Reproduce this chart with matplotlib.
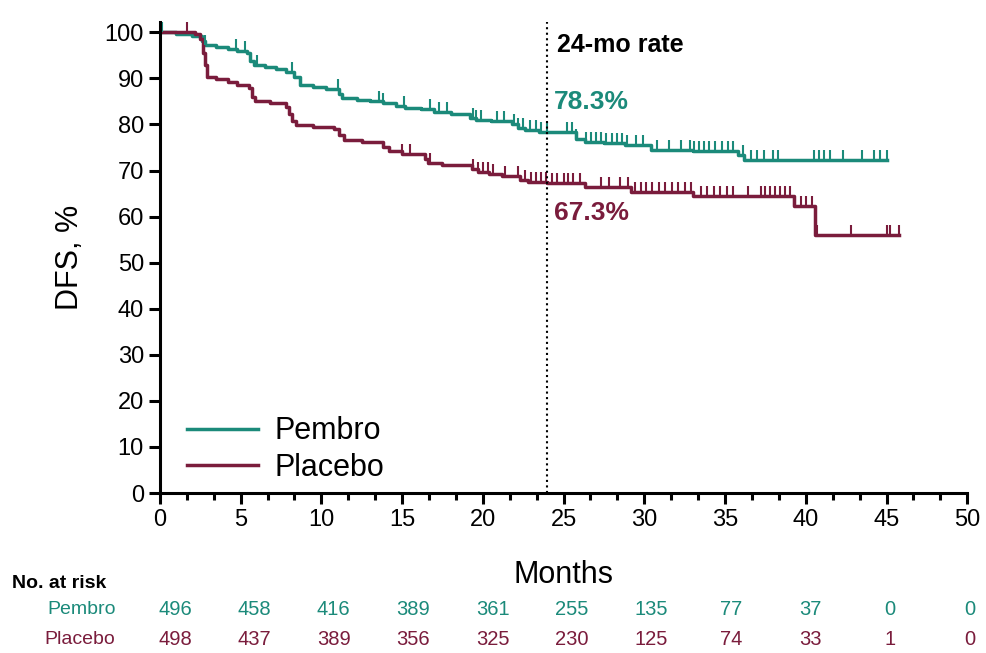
import numpy as np
import matplotlib.pyplot as plt
from matplotlib.ticker import MultipleLocator

plt.rcParams['font.family'] = ['Liberation Sans', 'DejaVu Sans']

teal = '#1b8a7a'
maroon = '#7a1c3c'

# Kaplan-Meier step points (months, DFS %)
pembro_t = [0, 1.0, 2.0, 2.6, 2.8, 3.5, 4.2, 4.8, 5.4, 5.6, 5.8, 6.5, 7.2, 7.8, 8.3, 8.7,
            9.5, 10.3, 11.1, 11.3, 12.2, 13.0, 13.8, 14.6, 15.2, 16.2, 17.0, 18.0, 19.2,
            19.6, 20.5, 21.8, 22.2, 22.6, 23.5, 25.8, 26.3, 27.5, 28.8, 30.4, 33.0, 35.8,
            36.2, 45.0]
pembro_s = [100, 99.6, 99.2, 98.2, 97.2, 96.8, 96.4, 96.0, 95.6, 93.8, 92.9, 92.5, 92.0,
            91.4, 90.2, 88.6, 88.2, 87.8, 86.6, 85.8, 85.4, 85.0, 84.6, 84.0, 83.6, 83.3,
            82.6, 82.3, 81.5, 81.0, 80.7, 80.2, 79.2, 78.8, 78.3, 76.8, 76.2, 76.0, 75.6,
            74.4, 74.2, 73.4, 72.2, 72.2]

placebo_t = [0, 2.2, 2.5, 2.7, 2.8, 2.9, 3.5, 4.2, 4.8, 5.5, 5.7, 5.9, 6.8, 7.8, 8.0, 8.2,
             8.4, 9.5, 10.8, 11.1, 11.4, 12.5, 13.8, 14.2, 15.0, 16.4, 16.6, 17.5, 19.3,
             19.7, 20.4, 21.2, 22.3, 22.8, 24.0, 26.3, 29.2, 33.0, 39.3, 40.6, 45.8]
placebo_s = [100, 99.6, 98.6, 95.5, 93.0, 90.2, 89.8, 89.2, 88.6, 88.0, 86.0, 85.0, 84.6,
             83.8, 82.2, 80.8, 79.8, 79.4, 79.0, 77.8, 76.6, 76.2, 75.2, 74.2, 73.6, 72.6,
             71.6, 71.3, 70.4, 69.6, 69.2, 68.8, 68.0, 67.5, 67.3, 66.4, 65.4, 64.4, 62.4,
             56.0, 56.0]

# censoring times
pembro_cens = [0.1, 2.8, 4.7, 5.3, 6.0, 8.2, 11.0, 13.6, 13.8, 15.1, 16.7, 17.3, 17.8, 19.4,
               19.6, 19.9, 20.9, 21.3, 21.9, 22.2, 22.5, 22.9, 23.3, 23.6, 24.0, 25.2, 25.5,
               25.8, 26.4, 26.7, 27.0, 27.3, 27.6, 28.0, 28.3, 28.6, 28.9, 29.5, 29.9, 30.8,
               31.5, 32.3, 32.8, 33.1, 33.4, 33.7, 34.0, 34.4, 34.8, 35.2, 35.5, 36.1, 36.6,
               37.0, 37.4, 38.0, 38.3, 40.5, 40.8, 41.1, 41.5, 42.3, 43.5, 44.2, 44.6, 45.0]
placebo_cens = [1.7, 15.0, 15.5, 16.7, 19.4, 19.7, 20.0, 20.3, 20.6, 21.4, 22.2, 22.6, 23.0,
                23.3, 23.6, 23.9, 24.3, 24.6, 25.0, 25.3, 25.6, 26.0, 27.3, 27.8, 28.5, 29.0,
                29.4, 29.8, 30.1, 30.5, 30.9, 31.3, 31.7, 32.1, 32.5, 32.9, 33.5, 33.9, 34.3,
                34.7, 35.1, 35.5, 36.4, 37.2, 37.5, 37.8, 38.1, 38.4, 38.7, 39.0, 39.3, 39.7,
                40.0, 40.4, 40.7, 42.8, 45.0, 45.2, 45.8]

risk_months = [0, 5, 10, 15, 20, 25, 30, 35, 40, 45, 50]
pembro_risk = [496, 458, 416, 389, 361, 255, 135, 77, 37, 0, 0]
placebo_risk = [498, 437, 389, 356, 325, 230, 125, 74, 33, 1, 0]


def surv_at(times, surv, tc):
    idx = np.searchsorted(times, tc, side='right') - 1
    return np.asarray(surv)[idx]


fig = plt.figure(figsize=(9.87, 6.53), dpi=100)
ax = fig.add_axes([0.162, 0.245, 0.818, 0.721])

ax.step(pembro_t, pembro_s, where='post', color=teal, lw=2.5, label='Pembro')
ax.step(placebo_t, placebo_s, where='post', color=maroon, lw=2.5, label='Placebo')
ax.plot(pembro_cens, surv_at(pembro_t, pembro_s, pembro_cens), ls='none',
        marker=2, ms=7, mew=1.5, color=teal)
ax.plot(placebo_cens, surv_at(placebo_t, placebo_s, placebo_cens), ls='none',
        marker=2, ms=7, mew=1.5, color=maroon)

ax.axvline(24, color='black', ls=':', lw=1.5)
ax.text(24.6, 97.2, '24-mo rate', fontsize=18, fontweight='bold', va='center')
ax.text(24.4, 84.8, '78.3%', fontsize=19, fontweight='bold', color=teal, va='center')
ax.text(24.4, 60.7, '67.3%', fontsize=19, fontweight='bold', color=maroon, va='center')

ax.set_xlim(0, 50)
ax.set_ylim(0, 102.2)
ax.xaxis.set_major_locator(MultipleLocator(5))
ax.xaxis.set_minor_locator(MultipleLocator(5 / 3))
ax.yaxis.set_major_locator(MultipleLocator(10))
for s in ['top', 'right']:
    ax.spines[s].set_visible(False)
for s in ['left', 'bottom']:
    ax.spines[s].set_linewidth(2.2)
ax.tick_params(axis='both', which='major', labelsize=17, width=2.2, length=8)
ax.tick_params(axis='x', which='minor', width=2.2, length=5)
ax.set_ylabel('DFS, %', fontsize=22, labelpad=14)
ax.set_xlabel('Months', fontsize=22, labelpad=21)

ax.legend(loc='lower left', bbox_to_anchor=(0.0, -0.037), frameon=False, fontsize=22,
          handlelength=2.3, handletextpad=0.55, labelspacing=0.22)

# number at risk table
risk_x = [0.93 + m * 0.984 for m in risk_months]
trans = ax.get_xaxis_transform()
fig.text(0.012, 1 - 583 / 653, 'No. at risk', fontsize=14, fontweight='bold', va='center')
for label, vals, col, ypix in [('Pembro', pembro_risk, teal, 610),
                               ('Placebo', placebo_risk, maroon, 640)]:
    fig.text(0.117, 1 - ypix / 653, label, fontsize=14, color=col, ha='right', va='center')
    for x, v in zip(risk_x, vals):
        ax.text(x, (493 - ypix) / (493 - 22), str(v), transform=trans, fontsize=14.5,
                color=col, ha='center', va='center', clip_on=False)

fig.savefig('out.png', dpi=100)
